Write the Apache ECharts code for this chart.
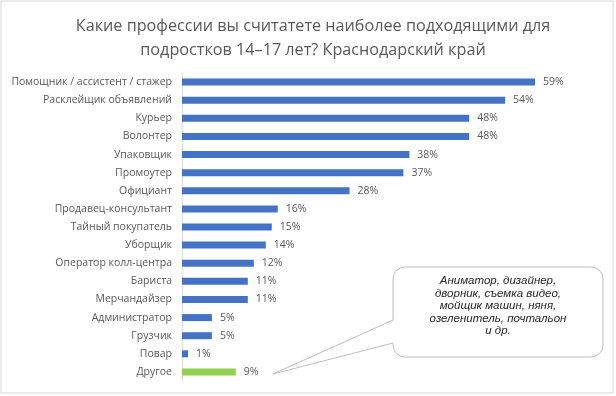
<!DOCTYPE html>
<html>
<head>
<meta charset="utf-8">
<script src="https://cdn.jsdelivr.net/npm/echarts@6/dist/echarts.min.js"></script>
<style>
html,body{margin:0;padding:0;background:#fff}
#chart{width:616px;height:396px}
</style>
</head>
<body>
<div id="chart"></div>
<script>
// данные
const categories = [
	"Помощник / ассистент / стажер",
	"Расклейщик объявлений",
	"Курьер",
	"Волонтер",
	"Упаковщик",
	"Промоутер",
	"Официант",
	"Продавец-консультант",
	"Тайный покупатель",
	"Уборщик",
	"Оператор колл-центра",
	"Бариста",
	"Мерчандайзер",
	"Администратор",
	"Грузчик",
	"Повар",
	"Другое"
]
const values = [59, 54, 48, 48, 38, 37, 28, 16, 15, 14, 12, 11, 11, 5, 5, 1, 9]
const otherNote = "Аниматор, дизайнер,\nдворник, съемка видео,\nмойщик машин, няня,\nозеленитель, почтальон\nи др."

const font = "'Open Sans', 'Noto Sans', sans-serif"
const gray = "#595959"

const chart = echarts.init(document.getElementById("chart"))
chart.setOption({
	animation: false,
	title: {
		text: "Какие профессии вы считатете наиболее подходящими для\nподростков 14–17 лет? Краснодарский край",
		left: 308,
		top: 9,
		textAlign: "center",
		textStyle: {
			fontFamily: font,
			fontSize: 16.2,
			fontWeight: "normal",
			color: gray,
			lineHeight: 24
		}
	},
	grid: {
		left: 182,
		right: 75,
		top: 73,
		bottom: 15
	},
	xAxis: {
		type: "value",
		min: 0,
		max: 60,
		show: false
	},
	yAxis: {
		type: "category",
		inverse: true,
		data: categories,
		axisLine: { lineStyle: { color: "#d9d9d9", width: 1 } },
		axisTick: { show: false },
		axisLabel: {
			margin: 10,
			fontFamily: font,
			fontSize: 10.5,
			color: gray
		}
	},
	series: [{
		type: "bar",
		barWidth: 7,
		data: values.map((v, i) => ({
			value: v,
			itemStyle: { color: i === values.length - 1 ? "#92d050" : "#4472c4" }
		})),
		label: {
			show: true,
			position: "right",
			distance: 8,
			formatter: "{c}%",
			fontFamily: font,
			fontSize: 10.5,
			color: gray
		}
	}],
	graphic: [
		// рамка
		{
			type: "rect",
			shape: { x: 1, y: 1, width: 612, height: 392 },
			style: { fill: "none", stroke: "#d9d9d9", lineWidth: 1 },
			silent: true
		},
		// выноска
		{
			type: "rect",
			shape: { x: 393, y: 267, width: 210, height: 90, r: 12 },
			style: { fill: "#fff", stroke: "#bfbfbf", lineWidth: 1 },
			silent: true
		},
		{
			type: "polygon",
			shape: { points: [[394, 320], [273, 374], [394, 343]] },
			style: { fill: "#fff" },
			silent: true
		},
		{
			type: "polyline",
			shape: { points: [[393, 320], [273, 374], [393, 343]] },
			style: { stroke: "#bfbfbf", lineWidth: 1, fill: "none" },
			silent: true
		},
		{
			type: "text",
			x: 498,
			y: 306,
			style: {
				text: otherNote,
				fontFamily: "'Liberation Sans', sans-serif",
				fontStyle: "italic",
				fontSize: 11.5,
				lineHeight: 12.5,
				fill: "#262626",
				align: "center",
				verticalAlign: "middle"
			},
			silent: true
		}
	]
})
</script>
</body>
</html>
